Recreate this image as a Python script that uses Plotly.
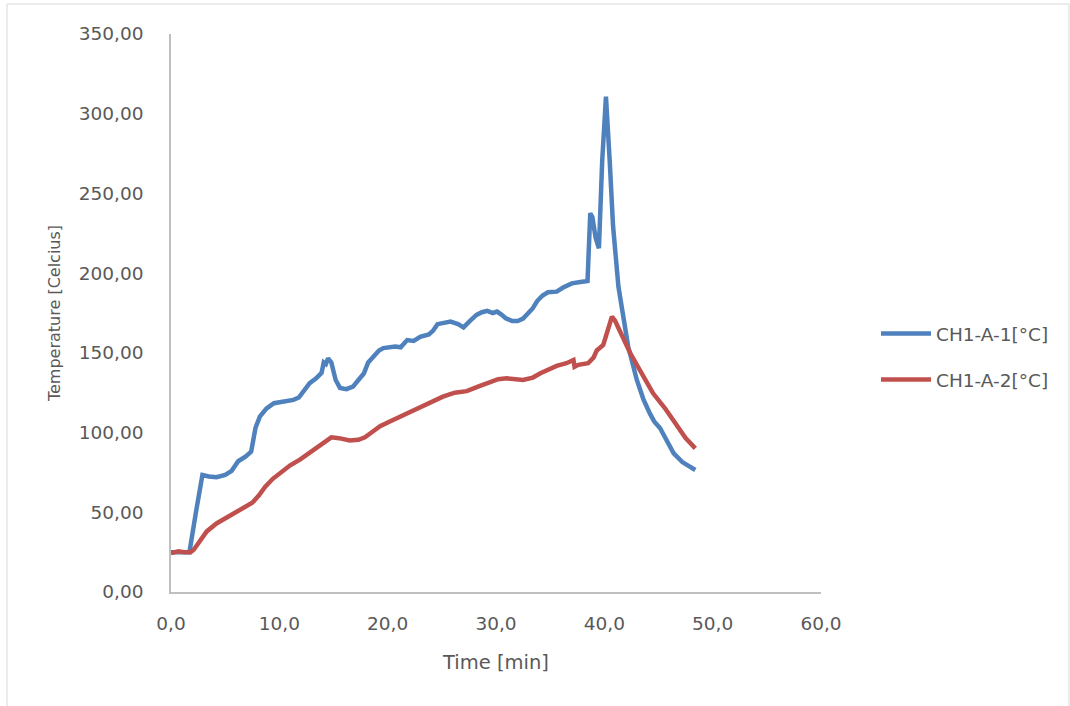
import plotly.graph_objects as go

# ---- data ----
t_ch1 = [0.0, 1.0, 1.7, 2.3, 2.9, 3.5, 4.2, 5.0, 5.6, 6.2, 6.9, 7.4, 7.8, 8.2, 8.8, 9.5,
         10.5, 11.3, 11.8, 12.3, 12.8, 13.4, 13.9, 14.1, 14.3, 14.5, 14.8, 15.2, 15.6, 16.2,
         16.8, 17.3, 17.8, 18.2, 18.7, 19.2, 19.6, 20.2, 20.7, 21.2, 21.8, 22.4, 23.0, 23.8,
         24.2, 24.6, 25.2, 25.8, 26.5, 27.0, 27.6, 28.2, 28.7, 29.2, 29.7, 30.1, 30.5, 30.9,
         31.5, 32.0, 32.5, 32.9, 33.4, 33.8, 34.3, 34.8, 35.6, 36.2, 37.0, 37.8, 38.45, 38.7,
         38.9, 39.2, 39.5, 39.8, 40.15, 40.5, 40.8, 41.3, 41.8, 42.2, 43.0, 43.6, 44.2, 44.6,
         45.15, 45.8, 46.4, 47.2, 48.4]
v_ch1 = [25.0, 24.8, 25.0, 50.0, 73.4, 72.5, 72.0, 73.5, 76.0, 82.0, 85.0, 88.0, 103.0, 110.0,
         115.0, 118.4, 119.5, 120.5, 122.0, 127.0, 131.0, 134.0, 137.5, 144.0, 143.0, 146.6,
         144.0, 133.0, 128.0, 127.2, 128.8, 133.0, 137.0, 144.0, 148.0, 151.5, 153.0, 153.5,
         154.0, 153.5, 158.0, 157.5, 160.0, 161.5, 164.0, 168.0, 169.0, 169.6, 168.0, 166.0,
         170.0, 173.8, 175.5, 176.3, 175.0, 175.9, 174.0, 171.7, 170.0, 170.0, 171.5, 174.0,
         178.0, 182.5, 186.0, 188.0, 188.4, 191.0, 193.6, 194.5, 195.1, 237.6, 235.0, 222.0,
         215.6, 270.0, 310.7, 270.0, 230.0, 191.5, 170.6, 154.0, 133.0, 121.0, 112.0, 107.0,
         102.7, 95.0, 87.0, 81.5, 76.5]

t_ch2 = [0.0, 0.7, 1.2, 1.8, 2.1, 2.4, 2.8, 3.3, 4.2, 5.1, 6.1, 7.0, 7.5, 8.1, 8.7, 9.4,
         10.1, 11.0, 11.9, 12.7, 13.5, 14.2, 14.8, 15.5, 16.5, 17.3, 17.9, 18.6, 19.3, 20.2,
         21.0, 22.0, 23.3, 24.2, 25.1, 26.2, 27.3, 28.4, 29.45, 30.2, 31.0, 32.5, 33.4, 34.1,
         35.6, 36.5, 37.15, 37.25, 37.6, 38.5, 39.0, 39.3, 39.9, 40.3, 40.7, 41.0, 41.3, 41.8,
         42.4, 43.0, 43.6, 44.5, 45.6, 46.7, 47.5, 48.4]
v_ch2 = [24.5, 25.5, 25.0, 25.0, 26.5, 29.5, 34.0, 38.0, 43.0, 46.5, 49.8, 53.5, 56.0, 60.5,
         66.0, 71.0, 75.0, 79.5, 83.0, 87.0, 91.2, 94.5, 97.0, 96.5, 95.0, 95.5, 97.0, 100.5,
         104.0, 107.0, 109.5, 112.5, 116.3, 119.5, 122.5, 125.0, 126.0, 129.0, 132.0, 133.5,
         134.0, 133.0, 134.5, 137.2, 141.8, 143.5, 145.5, 141.3, 142.5, 143.5, 147.0, 151.5,
         155.0, 164.0, 172.7, 170.0, 165.4, 157.5, 149.7, 142.5, 135.1, 124.6, 115.2, 103.7,
         96.5, 90.1]

series_names = ["CH1-A-1[°C]", "CH1-A-2[°C]"]
x_ticks = [0, 10, 20, 30, 40, 50, 60]
y_ticks = [0, 50, 100, 150, 200, 250, 300, 350]

FONT = "DejaVu Sans"
TXT = "#595959"

fig = go.Figure()
fig.add_trace(go.Scatter(x=t_ch1, y=v_ch1, mode="lines", name=series_names[0],
                         line=dict(color="#4F81BD", width=4.5), legendgroup="a"))
fig.add_trace(go.Scatter(x=t_ch2, y=v_ch2, mode="lines", name=series_names[1],
                         line=dict(color="#C0504D", width=4.5), legendgroup="b"))

# plot area in pixels
L, R, T, B = 171, 821, 34, 592
W, H = 1070, 706
pw, ph = R - L, B - T

def px(x):
    return (x - L) / pw

def py(y):
    return (B - y) / ph

fig.update_layout(
    width=W, height=H,
    margin=dict(l=L, r=W - R, t=T, b=H - B),
    paper_bgcolor="white", plot_bgcolor="white",
    separators=",.",
    font=dict(family=FONT, size=18, color=TXT),
    xaxis=dict(range=[0, 60], tickvals=x_ticks, tickformat=".1f", showgrid=False,
               zeroline=False, showline=True, linecolor="#BFBFBF", linewidth=1.5,
               ticks="", ticklabelstandoff=14, tickfont=dict(size=18.5),
               title=dict(text="Time [min]", font=dict(size=19.5), standoff=22)),
    yaxis=dict(range=[0, 350], tickvals=y_ticks, tickformat=".2f", showgrid=False,
               zeroline=False, showline=True, linecolor="#BFBFBF", linewidth=1.5,
               ticks="", ticklabelstandoff=22, tickfont=dict(size=18.5),
               title=dict(text="Temperature [Celcius]", font=dict(size=16), standoff=14)),
    legend=dict(x=px(876), y=py(357), xanchor="left", yanchor="middle",
                traceorder="grouped", tracegroupgap=19, itemwidth=50,
                font=dict(size=18.5, color=TXT), bgcolor="rgba(0,0,0,0)"),
    shapes=[dict(type="rect", xref="paper", yref="paper",
                 x0=px(7), x1=px(1069), y0=py(712), y1=py(4),
                 line=dict(color="#D9D9D9", width=1), layer="below")],
)

fig.write_html("out.html")
